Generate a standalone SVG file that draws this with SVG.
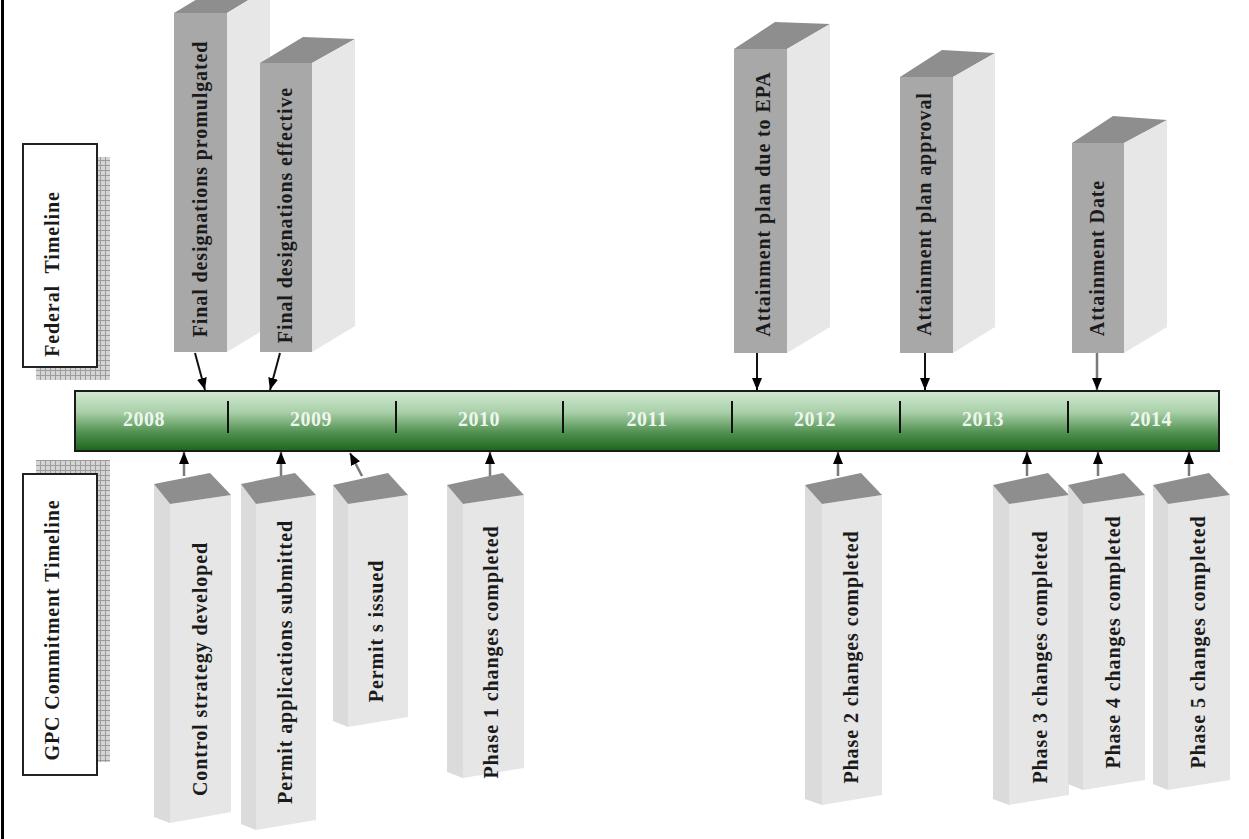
<svg xmlns="http://www.w3.org/2000/svg" width="1249" height="839" viewBox="0 0 1249 839">
<style>
  .ttop { fill: #8e8e8e; }
  .tside { fill: #e7e7e7; }
  .tfront { fill: #a8a8a8; }
  .btop { fill: #8e8e8e; }
  .bside { fill: #dbdbdb; }
  .bfront { fill: #e6e6e6; }
  .lbl { font-family: "Liberation Serif", "Times New Roman", serif; font-weight: bold; font-size: 20px; letter-spacing: 0.9px; fill: #1a1a1a; text-anchor: middle; }
  .side-lbl { font-family: "Liberation Serif", "Times New Roman", serif; font-weight: bold; font-size: 20px; letter-spacing: 0.9px; fill: #1a1a1a; text-anchor: middle; white-space: pre; }
  .yr { font-family: "Liberation Serif", "Times New Roman", serif; font-weight: bold; font-size: 20px; letter-spacing: 0.5px; fill: #eef6ee; text-anchor: middle; }
  .div { stroke: #111; stroke-width: 2; }
  .arr-dark { stroke: #111; stroke-width: 2; fill: none; marker-end: url(#ah); }
  .arr-gray { stroke: #7a7a7a; stroke-width: 2.5; fill: none; marker-end: url(#ah); }
  .sbox { fill: #ffffff; stroke: #222; stroke-width: 2; }
</style>
<defs>
  <linearGradient id="barg" x1="0" y1="0" x2="0" y2="1">
    <stop offset="0" stop-color="#d3e9d3"/>
    <stop offset="0.35" stop-color="#a9d0a9"/>
    <stop offset="0.7" stop-color="#4f8f4f"/>
    <stop offset="1" stop-color="#1c661c"/>
  </linearGradient>
  <pattern id="grid" x="0" y="0" width="5" height="5" patternUnits="userSpaceOnUse">
    <rect width="5" height="5" fill="#d4d4d4"/>
    <path d="M0,0.5 H5 M0.5,0 V5" stroke="#9c9c9c" stroke-width="1"/>
  </pattern>
  <marker id="ah" viewBox="0 0 12 10" markerWidth="12" markerHeight="10" refX="12" refY="5" orient="auto" markerUnits="userSpaceOnUse">
    <path d="M0,0 L12,5 L0,10 z" fill="#000"/>
  </marker>
</defs>

<rect x="0" y="0" width="1249" height="839" fill="#ffffff"/>
<rect x="1" y="0" width="3" height="839" fill="#000"/>

<!-- side labels -->
<g id="federal-label">
  <rect x="36" y="157" width="74" height="223" fill="url(#grid)"/>
  <rect class="sbox" x="23" y="144" width="74" height="223"/>
  <text class="side-lbl" transform="translate(59,274) rotate(-90)">Federal  Timeline</text>
</g>
<g id="gpc-label">
  <rect x="36" y="460" width="74" height="302" fill="url(#grid)"/>
  <rect class="sbox" x="23" y="474" width="74" height="301"/>
  <text class="side-lbl" transform="translate(59,630) rotate(-90)">GPC Commitment Timeline</text>
</g>

<!-- timeline bar -->
<g id="timeline">
  <rect x="75" y="391" width="1144" height="60" fill="url(#barg)" stroke="#1a1a1a" stroke-width="2"/>
  <line class="div" x1="228" y1="401" x2="228" y2="433"/>
  <line class="div" x1="396" y1="401" x2="396" y2="433"/>
  <line class="div" x1="563" y1="401" x2="563" y2="433"/>
  <line class="div" x1="732" y1="401" x2="732" y2="433"/>
  <line class="div" x1="900" y1="401" x2="900" y2="433"/>
  <line class="div" x1="1068" y1="401" x2="1068" y2="433"/>
  <text class="yr" x="144" y="426">2008</text>
  <text class="yr" x="311" y="426">2009</text>
  <text class="yr" x="479" y="426">2010</text>
  <text class="yr" x="647" y="426">2011</text>
  <text class="yr" x="815" y="426">2012</text>
  <text class="yr" x="983" y="426">2013</text>
  <text class="yr" x="1151" y="426">2014</text>
</g>

<!-- top (federal) boxes -->
<g id="final-promulgated">
  <polygon class="ttop" points="174,13 217,-13 270,-13 227,13"/>
  <polygon class="tside" points="227,13 270,-13 270,326 227,352"/>
  <rect class="tfront" x="174" y="13" width="53" height="339"/>
  <text class="lbl" transform="translate(207,189) rotate(-90)">Final designations promulgated</text>
</g>
<g id="final-effective">
  <polygon class="ttop" points="260,63 303,37 355,39 312,63"/>
  <polygon class="tside" points="312,63 355,39 355,326 312,352"/>
  <rect class="tfront" x="260" y="63" width="52" height="289"/>
  <text class="lbl" transform="translate(292,215) rotate(-90)">Final designations effective</text>
</g>
<g id="plan-due">
  <polygon class="ttop" points="734,49 775,22 830,24 787,49"/>
  <polygon class="tside" points="787,49 830,24 830,327 787,353"/>
  <rect class="tfront" x="734" y="49" width="53" height="304"/>
  <text class="lbl" transform="translate(770,204) rotate(-90)">Attainment plan due to EPA</text>
</g>
<g id="plan-approval">
  <polygon class="ttop" points="900,77 942,50 995,53 953,77"/>
  <polygon class="tside" points="953,77 995,53 995,327 953,353"/>
  <rect class="tfront" x="900" y="77" width="53" height="276"/>
  <text class="lbl" transform="translate(931,214) rotate(-90)">Attainment plan approval</text>
</g>
<g id="attainment-date">
  <polygon class="ttop" points="1072,143 1113,116 1167,120 1124,143"/>
  <polygon class="tside" points="1124,143 1167,120 1167,327 1124,353"/>
  <rect class="tfront" x="1072" y="143" width="52" height="210"/>
  <text class="lbl" transform="translate(1104,258) rotate(-90)">Attainment Date</text>
</g>

<!-- bottom (GPC) boxes -->
<g id="control-strategy">
  <polygon class="bside" points="154,484 170,504 170,823 154,817"/>
  <polygon class="bfront" points="170,504 231,495 231,812 170,823"/>
  <polygon class="btop" points="154,484 210,473 231,495 170,504"/>
  <text class="lbl" transform="translate(207,669) rotate(-90)">Control strategy developed</text>
</g>
<g id="permit-applications">
  <polygon class="bside" points="241,484 256,504 256,830 241,824"/>
  <polygon class="bfront" points="256,504 316,495 316,820 256,830"/>
  <polygon class="btop" points="241,484 295,473 316,495 256,504"/>
  <text class="lbl" transform="translate(292,662) rotate(-90)">Permit applications submitted</text>
</g>
<g id="permits-issued">
  <polygon class="bside" points="333,485 348,504 348,727 333,721"/>
  <polygon class="bfront" points="348,504 408,495 408,717 348,727"/>
  <polygon class="btop" points="333,485 388,473 408,495 348,504"/>
  <text class="lbl" transform="translate(383,631) rotate(-90)">Permit s issued</text>
</g>
<g id="phase1">
  <polygon class="bside" points="447,485 463,504 463,778 447,772"/>
  <polygon class="bfront" points="463,504 524,495 524,768 463,778"/>
  <polygon class="btop" points="447,485 503,473 524,495 463,504"/>
  <text class="lbl" transform="translate(498,652) rotate(-90)">Phase 1 changes completed</text>
</g>
<g id="phase2">
  <polygon class="bside" points="805,485 822,504 822,805 805,799"/>
  <polygon class="bfront" points="822,504 882,495 882,795 822,805"/>
  <polygon class="btop" points="805,485 861,473 882,495 822,504"/>
  <text class="lbl" transform="translate(858,657) rotate(-90)">Phase 2 changes completed</text>
</g>
<g id="phase3">
  <polygon class="bside" points="993,485 1009,504 1009,805 993,799"/>
  <polygon class="bfront" points="1009,504 1069,495 1069,795 1009,805"/>
  <polygon class="btop" points="993,485 1048,473 1069,495 1009,504"/>
  <text class="lbl" transform="translate(1047,657) rotate(-90)">Phase 3 changes completed</text>
</g>
<g id="phase4">
  <polygon class="bside" points="1068,485 1083,504 1083,790 1068,784"/>
  <polygon class="bfront" points="1083,504 1145,495 1145,780 1083,790"/>
  <polygon class="btop" points="1068,485 1124,473 1145,495 1083,504"/>
  <text class="lbl" transform="translate(1120,642) rotate(-90)">Phase 4 changes completed</text>
</g>
<g id="phase5">
  <polygon class="bside" points="1153,485 1168,504 1168,790 1153,784"/>
  <polygon class="bfront" points="1168,504 1230,495 1230,780 1168,790"/>
  <polygon class="btop" points="1153,485 1209,473 1230,495 1168,504"/>
  <text class="lbl" transform="translate(1205,642) rotate(-90)">Phase 5 changes completed</text>
</g>

<!-- connectors -->
<g id="connectors">
  <line class="arr-dark" x1="195" y1="353" x2="205" y2="390"/>
  <line class="arr-dark" x1="280" y1="353" x2="270" y2="390"/>
  <line class="arr-dark" x1="757" y1="353" x2="757" y2="390"/>
  <line class="arr-dark" x1="925" y1="353" x2="925" y2="390"/>
  <line class="arr-gray" x1="1097" y1="353" x2="1097" y2="390"/>
  <line class="arr-gray" x1="184" y1="476" x2="184" y2="452"/>
  <line class="arr-gray" x1="281" y1="476" x2="281" y2="452"/>
  <line class="arr-gray" x1="362" y1="476" x2="350" y2="453"/>
  <line class="arr-gray" x1="490" y1="476" x2="490" y2="452"/>
  <line class="arr-gray" x1="838" y1="476" x2="838" y2="452"/>
  <line class="arr-gray" x1="1027" y1="476" x2="1027" y2="452"/>
  <line class="arr-gray" x1="1098" y1="476" x2="1098" y2="452"/>
  <line class="arr-gray" x1="1189" y1="476" x2="1189" y2="452"/>
</g>
</svg>
